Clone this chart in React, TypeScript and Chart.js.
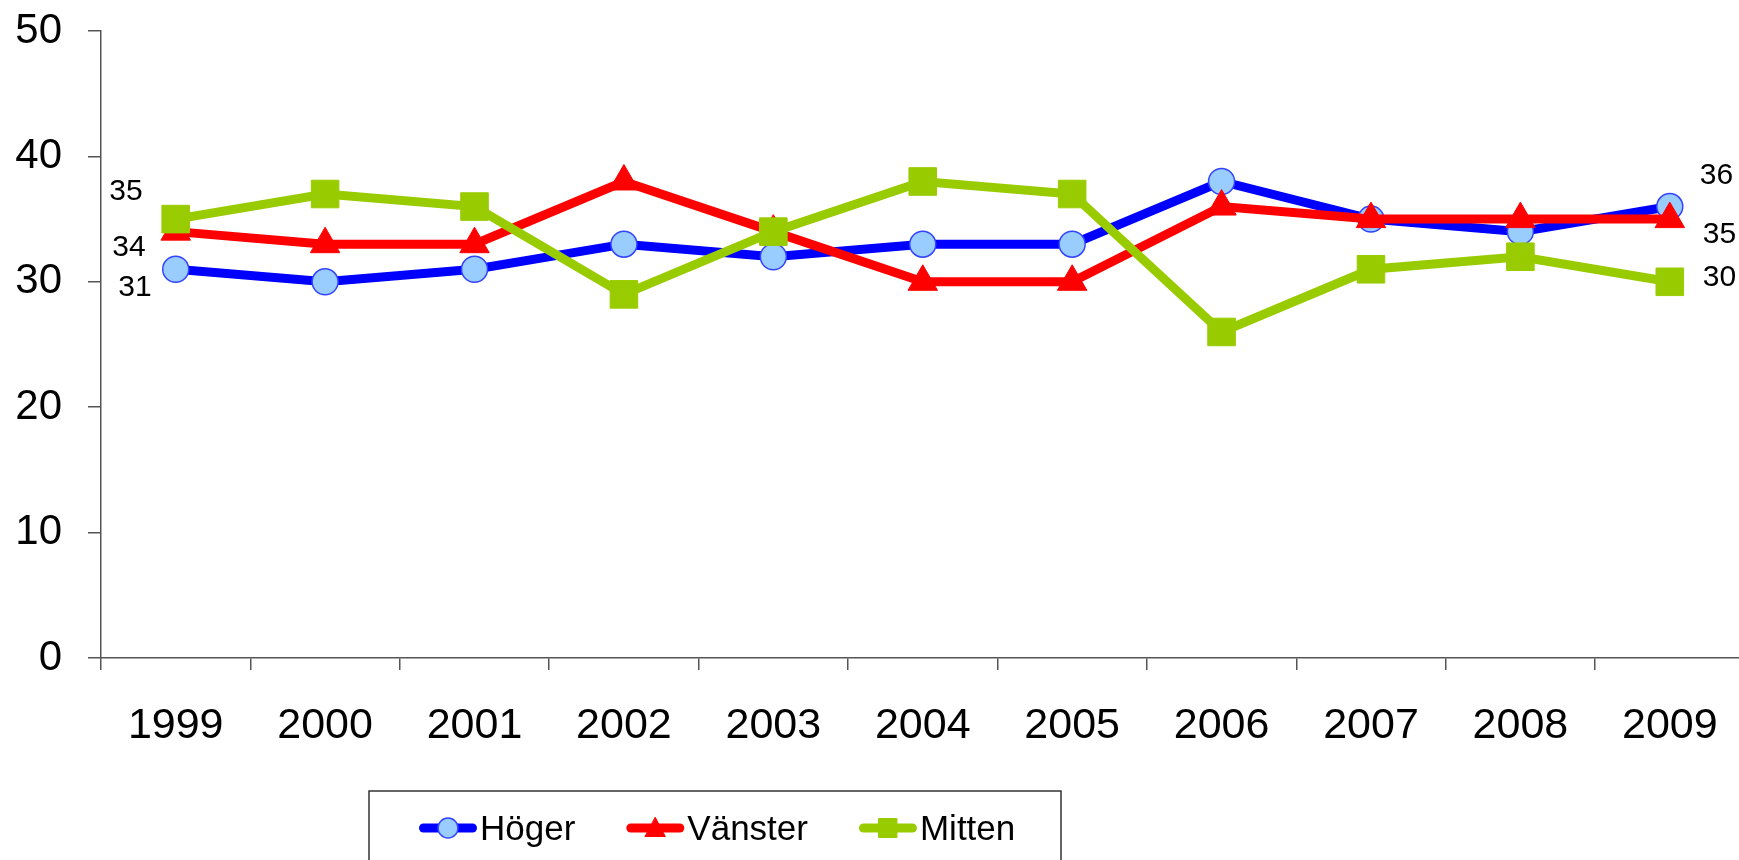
import React, { useEffect, useRef } from 'react';
import { Chart, registerables } from 'chart.js';

Chart.register(...registerables);

const years = ['1999', '2000', '2001', '2002', '2003', '2004', '2005', '2006', '2007', '2008', '2009'];
const hoger = [31, 30, 31, 33, 32, 33, 33, 38, 35, 34, 36];
const vanster = [34, 33, 33, 38, 34, 30, 30, 36, 35, 35, 35];
const mitten = [35, 37, 36, 29, 34, 38, 37, 26, 31, 32, 30];
const yMin = 0;
const yMax = 50;
const yStep = 10;

const FONT = "'Liberation Sans', Arial, sans-serif";
const BLUE = '#0000ff';
const LIGHTBLUE = '#99ccff';
const RED = '#ff0000';
const GREEN = '#99cc00';
const AXIS = '#555555';

const endLabelPlugin = {
  id: 'endLabels',
  afterDatasetsDraw(chart: any) {
    const ctx = chart.ctx;
    const size = 30;
    ctx.save();
    ctx.font = `${size}px ${FONT}`;
    ctx.fillStyle = '#000';
    ctx.textBaseline = 'alphabetic';
    chart.data.datasets.forEach((ds: any, di: number) => {
      const meta = chart.getDatasetMeta(di);
      (ds.endLabels || []).forEach((o: any) => {
        const idx = o.at === 'start' ? 0 : ds.data.length - 1;
        const pt = meta.data[idx];
        if (!pt) return;
        ctx.textAlign = o.align;
        ctx.fillText(String(ds.data[idx]), pt.x + o.dx, pt.y + o.dy + 0.358 * size);
      });
    });
    ctx.restore();
  },
};

function drawMarker(ctx: CanvasRenderingContext2D, style: string, x: number, y: number, fill: string, stroke: string) {
  ctx.beginPath();
  if (style === 'circle') {
    ctx.arc(x, y, 10, 0, Math.PI * 2);
  } else if (style === 'triangle') {
    ctx.moveTo(x, y - 10.5);
    ctx.lineTo(x + 10, y + 8.5);
    ctx.lineTo(x - 10, y + 8.5);
    ctx.closePath();
  } else {
    ctx.rect(x - 9, y - 9.5, 18, 19);
  }
  ctx.fillStyle = fill;
  ctx.fill();
  ctx.lineWidth = style === 'circle' ? 1.5 : 1;
  ctx.strokeStyle = stroke;
  ctx.stroke();
}

const boxLegendPlugin = {
  id: 'boxLegend',
  afterDraw(chart: any, _args: any, opts: any) {
    const ctx: CanvasRenderingContext2D = chart.ctx;
    ctx.save();
    ctx.strokeStyle = '#333';
    ctx.lineWidth = 1.5;
    ctx.strokeRect(opts.x, opts.y, opts.w, opts.h);
    ctx.font = `${opts.fontSize}px ${FONT}`;
    ctx.textAlign = 'left';
    ctx.textBaseline = 'alphabetic';
    let x = opts.itemsX;
    const y = opts.itemY;
    chart.data.datasets.forEach((ds: any) => {
      ctx.beginPath();
      ctx.lineCap = 'round';
      ctx.lineWidth = opts.lineWidth;
      ctx.strokeStyle = ds.borderColor;
      ctx.moveTo(x + opts.lineWidth / 2, y);
      ctx.lineTo(x + opts.lineLen - opts.lineWidth / 2, y);
      ctx.stroke();
      drawMarker(ctx, ds.pointStyle, x + opts.lineLen / 2, y, ds.pointBackgroundColor, ds.pointBorderColor);
      const tx = x + opts.lineLen + opts.textGap;
      ctx.fillStyle = '#000';
      ctx.fillText(ds.label, tx, y + opts.baselineDy);
      x = tx + ctx.measureText(ds.label).width + opts.itemGap;
    });
    ctx.restore();
  },
};

export default function App() {
  const ref = useRef<HTMLCanvasElement>(null);

  useEffect(() => {
    if (!ref.current) return;
    const chart = new Chart(ref.current, {
      type: 'line',
      data: {
        labels: years,
        datasets: [
          {
            label: 'Höger',
            data: hoger,
            borderColor: BLUE,
            borderWidth: 9,
            pointStyle: 'circle',
            pointRadius: 13,
            pointBackgroundColor: LIGHTBLUE,
            pointBorderColor: '#3344ff',
            pointBorderWidth: 1.5,
            order: 3,
            endLabels: [
              { at: 'start', dx: -24, dy: 16, align: 'right' },
              { at: 'end', dx: 30, dy: -33, align: 'left' },
            ],
          } as any,
          {
            label: 'Vänster',
            data: vanster,
            borderColor: RED,
            borderWidth: 9,
            pointStyle: 'triangle',
            pointRadius: 17,
            pointBackgroundColor: RED,
            pointBorderColor: RED,
            pointBorderWidth: 1,
            order: 2,
            endLabels: [
              { at: 'start', dx: -30, dy: 14, align: 'right' },
              { at: 'end', dx: 33, dy: 13, align: 'left' },
            ],
          } as any,
          {
            label: 'Mitten',
            data: mitten,
            borderColor: GREEN,
            borderWidth: 9,
            pointStyle: 'rect',
            pointRadius: 19.5,
            pointBackgroundColor: GREEN,
            pointBorderColor: GREEN,
            pointBorderWidth: 1,
            order: 1,
            endLabels: [
              { at: 'start', dx: -33, dy: -30, align: 'right' },
              { at: 'end', dx: 33, dy: -7, align: 'left' },
            ],
          } as any,
        ],
      },
      options: {
        animation: false,
        responsive: true,
        maintainAspectRatio: false,
        layout: { padding: { top: 31, right: 1, bottom: 0, left: 0 } },
        plugins: {
          legend: { display: false },
          tooltip: { enabled: false },
          boxLegend: {
            x: 369,
            y: 791,
            w: 692,
            h: 120,
            itemsX: 419,
            itemY: 828,
            lineLen: 58,
            lineWidth: 9,
            textGap: 3,
            itemGap: 51,
            fontSize: 35,
            baselineDy: 12,
          },
        } as any,
        scales: {
          x: {
            type: 'category',
            offset: true,
            grid: {
              offset: true,
              drawOnChartArea: false,
              drawTicks: true,
              tickLength: 12,
              color: AXIS,
              lineWidth: 1.5,
            },
            border: { display: true, color: AXIS, width: 1.5 },
            ticks: {
              color: '#000',
              font: { family: FONT, size: 43 },
              padding: 30,
              maxRotation: 0,
              autoSkip: false,
            },
            afterFit(scale: any) {
              scale.height = 202;
            },
          },
          y: {
            min: yMin,
            max: yMax,
            grid: {
              drawOnChartArea: false,
              drawTicks: true,
              tickLength: 13,
              color: AXIS,
              lineWidth: 1.5,
            },
            border: { display: true, color: AXIS, width: 1.5 },
            ticks: {
              stepSize: yStep,
              color: '#000',
              font: { family: FONT, size: 42, lineHeight: 0.5 },
              padding: 26,
            },
            afterFit(scale: any) {
              scale.width = 101;
              scale.paddingTop = 0;
              scale.paddingBottom = 0;
            },
          },
        },
      },
      plugins: [endLabelPlugin, boxLegendPlugin],
    });
    return () => chart.destroy();
  }, []);

  return (
    <div
      style={{
        position: 'fixed',
        left: 0,
        top: 0,
        width: '1739px',
        height: '860px',
        overflow: 'hidden',
        background: '#fff',
      }}
    >
      <div style={{ position: 'relative', width: '1765px', height: '860px' }}>
        <canvas ref={ref} />
      </div>
    </div>
  );
}
